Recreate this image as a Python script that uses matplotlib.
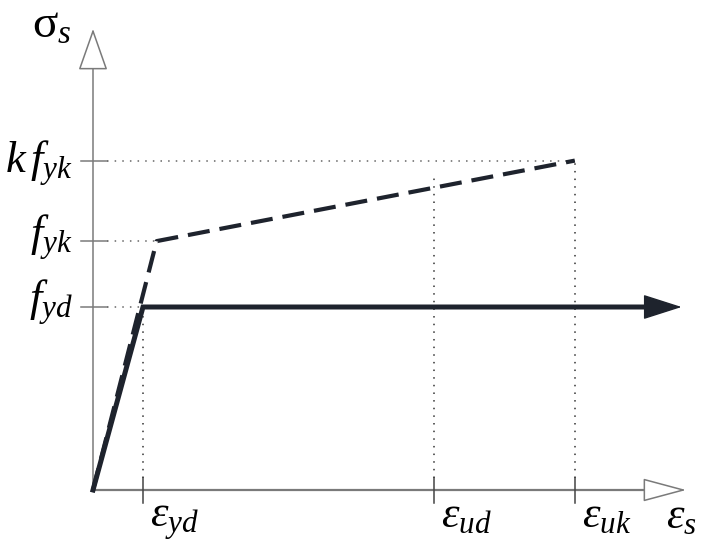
import matplotlib
matplotlib.use('Agg')
import matplotlib.pyplot as plt

plt.rcParams['mathtext.fontset'] = 'custom'
plt.rcParams['mathtext.it'] = 'Liberation Serif:italic'
plt.rcParams['mathtext.rm'] = 'Liberation Serif'
plt.rcParams['mathtext.bf'] = 'Liberation Serif:bold'
plt.rcParams['font.family'] = ['Liberation Serif', 'DejaVu Serif']

# strains (per mille, schematic) and stresses (relative to f_yd)
eps_yd = 2.2
eps_yk = 2.8
eps_ud = 15.0
eps_uk = 21.2
f_yd = 1.0
f_yk = 1.36
kf_yk = 1.8

x_ticks = [eps_yd, eps_ud, eps_uk]
x_labels = [r'$\varepsilon_{yd}$', r'$\varepsilon_{ud}$', r'$\varepsilon_{uk}$']
y_ticks = [kf_yk, f_yk, f_yd]
y_labels = [r'$k\,f_{yk}$', r'$f_{yk}$', r'$f_{yd}$']

# design curve (elastic - perfectly plastic) and characteristic curve
design_x = [0, eps_yd, 24.4]
design_y = [0, f_yd, f_yd]
char_x = [0, eps_yk, eps_uk]
char_y = [0, f_yk, kf_yk]

x_end, y_end = 26.1, 2.52
arrow_end = 25.9

XPX = 50 / 2.2    # pixels per strain unit
YPX = 183 / 1.0   # pixels per stress unit

fig = plt.figure(figsize=(7.03, 5.44), dpi=100)
ax = fig.add_axes([0, 0, 1, 1])
ax.set_xlim(-93 / XPX, (703 - 93) / XPX)
ax.set_ylim(-(544 - 490) / YPX, 490 / YPX)
ax.axis('off')

axc = '#7a7a7a'
linec = '#1e232d'
dotc = '#666666'
dots = (0, (1, 4))

# axes with open arrow heads
ax.plot([0, 0], [0, 2.32], color=axc, lw=1.1)
ax.plot([0, 24.4], [0, 0], color=axc, lw=1.6)
ax.annotate('', xy=(0, y_end), xytext=(0, 2.32),
            arrowprops=dict(arrowstyle='-|>,head_length=2.7,head_width=0.95',
                            fc='white', ec=axc, lw=1.1, mutation_scale=10,
                            shrinkA=0, shrinkB=0))
ax.annotate('', xy=(x_end, 0), xytext=(24.4, 0),
            arrowprops=dict(arrowstyle='-|>,head_length=2.8,head_width=0.75',
                            fc='white', ec=axc, lw=1.1, mutation_scale=10,
                            shrinkA=0, shrinkB=0))

# ticks
for yt in y_ticks:
    ax.plot([-0.53, 0.62], [yt, yt], color=axc, lw=1.1)
for xt in x_ticks:
    ax.plot([xt, xt], [-0.07, 0.066], color='#444444', lw=1.1)

# dotted guide lines
ax.plot([0.62, eps_uk], [kf_yk, kf_yk], color=dotc, lw=1.1, ls=dots)
ax.plot([0.62, eps_yk], [f_yk, f_yk], color=dotc, lw=1.1, ls=dots)
ax.plot([0.62, eps_yd], [f_yd, f_yd], color=dotc, lw=1.1, ls=dots)
ax.plot([eps_yd, eps_yd], [0.066, f_yd], color='#333333', lw=1.1, ls=dots)
ax.plot([eps_ud, eps_ud], [0.066, 1.73], color='#333333', lw=1.1, ls=dots)
ax.plot([eps_uk, eps_uk], [0.066, kf_yk], color='#333333', lw=1.1, ls=dots)

# curves
ax.plot(char_x, char_y, color=linec, lw=3.0, ls=(0, (5.3, 2.4)),
        solid_joinstyle='miter')
ax.plot(design_x, design_y, color=linec, lw=3.6, solid_joinstyle='miter')
ax.annotate('', xy=(arrow_end, f_yd), xytext=(24.4, f_yd),
            arrowprops=dict(arrowstyle='-|>,head_length=2.5,head_width=0.8',
                            fc=linec, ec=linec, lw=1, mutation_scale=10,
                            shrinkA=0, shrinkB=0))

# labels
label_y = {kf_yk: 1.73, f_yk: 1.33, f_yd: 0.97}
for yt, lab in zip(y_ticks, y_labels):
    ax.text(-0.9, label_y[yt], lab, fontsize=32, ha='right', va='baseline')
for xt, lab in zip(x_ticks, x_labels):
    ax.text(xt + 0.3, -0.2, lab, fontsize=32, ha='left', va='baseline')
ax.text(25.2, -0.21, r'$\varepsilon_s$', fontsize=32, ha='left', va='baseline')
ax.text(-2.68, 2.47, r'$\mathrm{\sigma}_s$', fontsize=34, ha='left', va='baseline')

fig.savefig('out.png', dpi=100)
